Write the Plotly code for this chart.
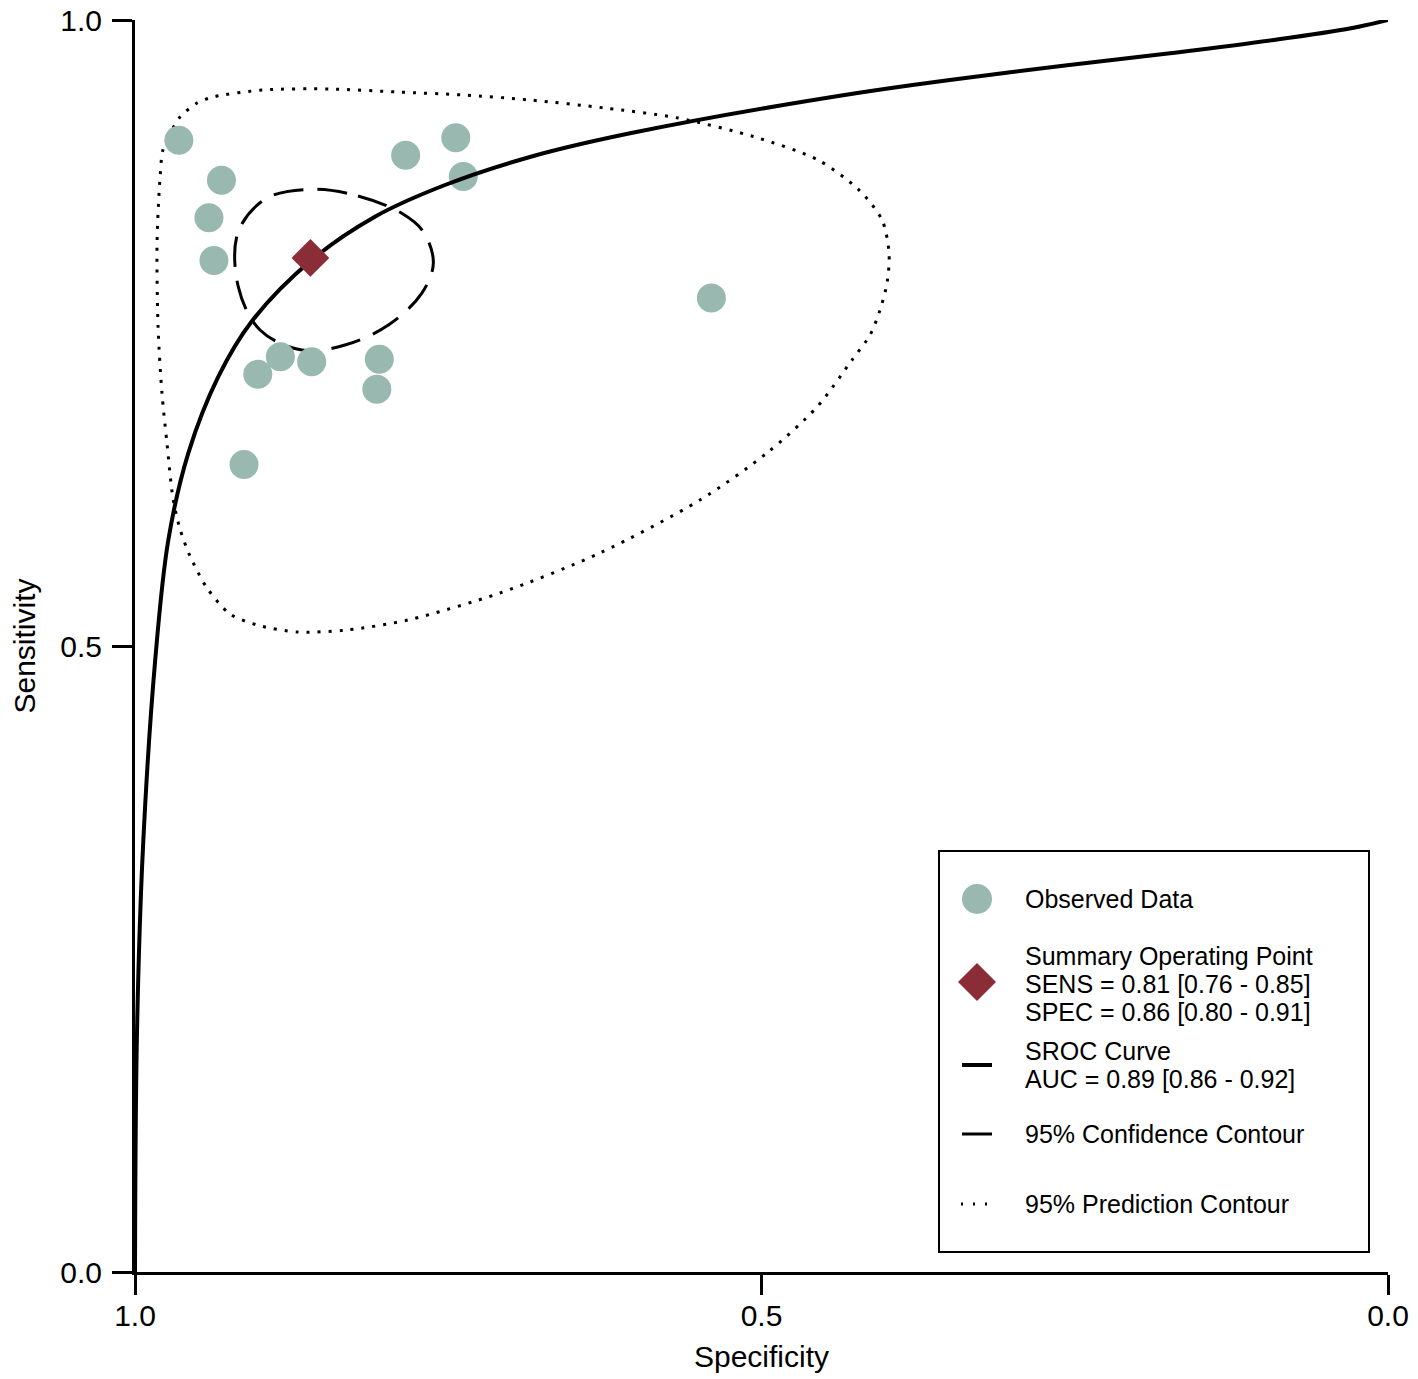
import plotly.graph_objects as go

# observed studies (specificity, sensitivity)
obs_spec = [0.965, 0.931, 0.941, 0.937, 0.784, 0.744, 0.738, 0.540,
            0.902, 0.884, 0.859, 0.805, 0.807, 0.913]
obs_sens = [0.904, 0.872, 0.842, 0.808, 0.892, 0.906, 0.875, 0.778,
            0.717, 0.731, 0.727, 0.729, 0.705, 0.645]

# summary operating point
sum_spec = [0.86]
sum_sens = [0.81]

# SROC curve
sroc_spec = [1.000, 0.9984, 0.9936, 0.9840, 0.9734, 0.9575, 0.9335, 0.9069,
             0.8590, 0.8085, 0.7526, 0.6848, 0.6049, 0.4222, 0.2981, 0.1740,
             0.0913, 0.0295, 0.0000]
sroc_sens = [0.000, 0.1917, 0.3395, 0.4872, 0.5847, 0.6539, 0.7151, 0.7592,
             0.8083, 0.8429, 0.8682, 0.8906, 0.9095, 0.9419, 0.9587, 0.9734,
             0.9840, 0.9934, 1.0000]

# 95% confidence contour
conf_spec = [0.8577, 0.8220, 0.7871, 0.7699, 0.7619, 0.7712, 0.7978, 0.8324,
             0.8670, 0.9002, 0.9176, 0.9176, 0.8949, 0.8577]
conf_sens = [0.8648, 0.8594, 0.8456, 0.8309, 0.8057, 0.7817, 0.7564, 0.7404,
             0.7364, 0.7524, 0.7870, 0.8309, 0.8576, 0.8648]

# 95% prediction contour
pred_spec = [0.9777, 0.9697, 0.9641, 0.9505, 0.9377, 0.8978, 0.8444, 0.7909,
             0.7382, 0.6848, 0.6249, 0.5666, 0.5052, 0.4549, 0.4222, 0.4038,
             0.3982, 0.3998, 0.4054, 0.4134, 0.4278, 0.4557, 0.4956, 0.5491,
             0.6289, 0.7087, 0.7821, 0.8308, 0.8707, 0.9026, 0.9242, 0.9425,
             0.9561, 0.9641, 0.9697, 0.9745, 0.9785, 0.9816, 0.9824, 0.9800,
             0.9777]
pred_sens = [0.8962, 0.9137, 0.9225, 0.9337, 0.9385, 0.9441, 0.9449, 0.9425,
             0.9401, 0.9361, 0.9297, 0.9217, 0.9065, 0.8882, 0.8642, 0.8403,
             0.8139, 0.7899, 0.7684, 0.7484, 0.7284, 0.6909, 0.6542, 0.6166,
             0.5743, 0.5423, 0.5208, 0.5128, 0.5112, 0.5168, 0.5256, 0.5463,
             0.5719, 0.5935, 0.6182, 0.6621, 0.7021, 0.7548, 0.8219, 0.8746,
             0.8962]

tick_vals = [1.0, 0.5, 0.0]
tick_text = ["1.0", "0.5", "0.0"]

legend_lines = [
    ["Observed Data"],
    ["Summary Operating Point", "SENS = 0.81 [0.76 - 0.85]", "SPEC = 0.86 [0.80 - 0.91]"],
    ["SROC Curve", "AUC = 0.89 [0.86 - 0.92]"],
    ["95% Confidence Contour"],
    ["95% Prediction Contour"],
]

DOT_COLOR = "#98b8b0"
DIAMOND_COLOR = "#8b2d36"
FONT = "Liberation Sans, Arial, sans-serif"

# plot area in page pixels (body margin is zeroed below)
W, H = 1418, 1379
L, T, PW, PH = 135, 20, 1253, 1252


def ppx(x):
    return (x - L) / PW


def ppy(y):
    return (T + PH - y) / PH


fig = go.Figure()

fig.add_trace(go.Scatter(x=pred_spec, y=pred_sens, mode="lines",
                         line=dict(color="black", width=3, dash="3px,8px", shape="spline", smoothing=0.8),
                         hoverinfo="skip"))
fig.add_trace(go.Scatter(x=conf_spec, y=conf_sens, mode="lines",
                         line=dict(color="black", width=3, dash="30px,14px", shape="spline", smoothing=1.0),
                         hoverinfo="skip"))
fig.add_trace(go.Scatter(x=obs_spec, y=obs_sens, mode="markers",
                         marker=dict(color=DOT_COLOR, size=29, line=dict(width=0))))
fig.add_trace(go.Scatter(x=sroc_spec, y=sroc_sens, mode="lines",
                         line=dict(color="black", width=4, shape="spline", smoothing=1.0),
                         hoverinfo="skip"))
fig.add_trace(go.Scatter(x=sum_spec, y=sum_sens, mode="markers",
                         marker=dict(color=DIAMOND_COLOR, symbol="diamond", size=29, line=dict(width=0))))

# hand-drawn legend box
shapes = [dict(type="rect", xref="paper", yref="paper",
               x0=ppx(939), x1=ppx(1369), y0=ppy(1252), y1=ppy(851),
               line=dict(color="black", width=2), fillcolor="white", layer="above")]
shapes.append(dict(type="circle", xref="paper", yref="paper",
                   x0=ppx(962), x1=ppx(992), y0=ppy(914), y1=ppy(884),
                   fillcolor=DOT_COLOR, line=dict(width=0), layer="above"))
cx, cy, r = 977, 982, 19
shapes.append(dict(type="path", xref="paper", yref="paper",
                   path=f"M {ppx(cx - r)} {ppy(cy)} L {ppx(cx)} {ppy(cy - r)} "
                        f"L {ppx(cx + r)} {ppy(cy)} L {ppx(cx)} {ppy(cy + r)} Z",
                   fillcolor=DIAMOND_COLOR, line=dict(width=0), layer="above"))
shapes.append(dict(type="line", xref="paper", yref="paper",
                   x0=ppx(962), x1=ppx(992), y0=ppy(1065), y1=ppy(1065),
                   line=dict(color="black", width=4), layer="above"))
shapes.append(dict(type="line", xref="paper", yref="paper",
                   x0=ppx(962), x1=ppx(992), y0=ppy(1134), y1=ppy(1134),
                   line=dict(color="black", width=3), layer="above"))
shapes.append(dict(type="line", xref="paper", yref="paper",
                   x0=ppx(961), x1=ppx(992), y0=ppy(1204), y1=ppy(1204),
                   line=dict(color="black", width=3, dash="2px,10px"), layer="above"))

# legend text blocks (centre y in page pixels). Line spacing in plotly is
# 1.3em of the base font, so the base is set small and each line is sized up
# to get the tight spacing of the original.
TEXT_SIZE = 25
LINE_GAP = 28
row_y = [899, 983.5, 1065, 1134, 1204]
annotations = []
for lines, yc in zip(legend_lines, row_y):
    txt = "<br>".join(f"<span style='font-size:{TEXT_SIZE}px'>{s}</span>" for s in lines)
    annotations.append(dict(x=ppx(1023), y=ppy(yc), xref="paper", yref="paper",
                            text=txt, showarrow=False, xanchor="left", yanchor="middle",
                            align="left",
                            font=dict(family=FONT, size=LINE_GAP / 1.3, color="black")))

fig.update_layout(
    width=W, height=H,
    margin=dict(l=L, r=W - L - PW, t=T, b=H - T - PH),
    paper_bgcolor="white", plot_bgcolor="white",
    showlegend=False,
    shapes=shapes, annotations=annotations,
    font=dict(family=FONT, color="black"),
    xaxis=dict(range=[1, 0], tickvals=tick_vals, ticktext=tick_text, automargin=False,
               ticklabeloverflow="allow",
               showgrid=False, zeroline=False, showline=True, linecolor="black", linewidth=3,
               ticks="outside", ticklen=20, tickwidth=3, tickcolor="black",
               tickfont=dict(size=30), ticklabelstandoff=-5,
               title=dict(text="Specificity", font=dict(size=30), standoff=15)),
    yaxis=dict(range=[0, 1], tickvals=tick_vals, ticktext=tick_text, automargin=False,
               ticklabeloverflow="allow",
               showgrid=False, zeroline=False, showline=True, linecolor="black", linewidth=3,
               ticks="outside", ticklen=20, tickwidth=3, tickcolor="black",
               tickfont=dict(size=30), ticklabelstandoff=4,
               title=dict(text="Sensitivity", font=dict(size=30), standoff=16)),
)

fig.write_html("out.html", config={"displayModeBar": False},
               post_script="document.body.style.margin = '0px';")
